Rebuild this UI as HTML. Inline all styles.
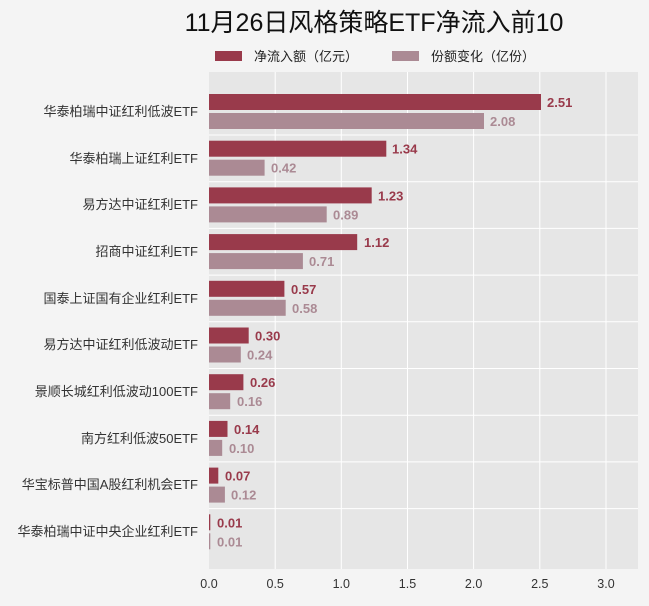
<!DOCTYPE html>
<html><head><meta charset="utf-8"><style>
body{margin:0;background:#f4f4f4;}
svg{display:block;font-family:"Liberation Sans","Noto Sans CJK SC",sans-serif;}
</style></head><body>
<svg width="649" height="606" xmlns="http://www.w3.org/2000/svg">
<rect width="649" height="606" fill="#f4f4f4"/>
<text x="374" y="31" font-size="25" text-anchor="middle" fill="#111">11月26日风格策略ETF净流入前10</text>
<rect x="215" y="51" width="27" height="10" fill="#993a4b"/>
<text x="254" y="61" font-size="13" fill="#222">净流入额（亿元）</text>
<rect x="392" y="51" width="27" height="10" fill="#ab8a94"/>
<text x="431" y="61" font-size="13" fill="#222">份额变化（亿份）</text>
<rect x="209" y="72" width="429" height="497" fill="#e6e6e6"/>
<g stroke="#fff" stroke-width="1">
<line x1="275.2" y1="72" x2="275.2" y2="569"/>
<line x1="341.3" y1="72" x2="341.3" y2="569"/>
<line x1="407.5" y1="72" x2="407.5" y2="569"/>
<line x1="473.6" y1="72" x2="473.6" y2="569"/>
<line x1="539.8" y1="72" x2="539.8" y2="569"/>
<line x1="606" y1="72" x2="606" y2="569"/>
<line x1="209" y1="135" x2="638" y2="135"/>
<line x1="209" y1="181.7" x2="638" y2="181.7"/>
<line x1="209" y1="228.4" x2="638" y2="228.4"/>
<line x1="209" y1="275.1" x2="638" y2="275.1"/>
<line x1="209" y1="321.8" x2="638" y2="321.8"/>
<line x1="209" y1="368.5" x2="638" y2="368.5"/>
<line x1="209" y1="415.2" x2="638" y2="415.2"/>
<line x1="209" y1="461.9" x2="638" y2="461.9"/>
<line x1="209" y1="508.6" x2="638" y2="508.6"/>
</g>
<g font-size="13" fill="#333" text-anchor="end">
<text x="198" y="116">华泰柏瑞中证红利低波ETF</text>
<text x="198" y="163">华泰柏瑞上证红利ETF</text>
<text x="198" y="209">易方达中证红利ETF</text>
<text x="198" y="256">招商中证红利ETF</text>
<text x="198" y="303">国泰上证国有企业红利ETF</text>
<text x="198" y="349">易方达中证红利低波动ETF</text>
<text x="198" y="396">景顺长城红利低波动100ETF</text>
<text x="198" y="443">南方红利低波50ETF</text>
<text x="198" y="489">华宝标普中国A股红利机会ETF</text>
<text x="198" y="536">华泰柏瑞中证中央企业红利ETF</text>
</g>
<g font-size="12.5" fill="#333" text-anchor="middle">
<text x="209" y="588">0.0</text><text x="275.2" y="588">0.5</text><text x="341.3" y="588">1.0</text><text x="407.5" y="588">1.5</text><text x="473.6" y="588">2.0</text><text x="539.8" y="588">2.5</text><text x="606" y="588">3.0</text>
</g>
<g font-size="13" font-weight="bold">
<rect x="209" y="94" width="332" height="16" fill="#993a4b"/><text x="547" y="107" fill="#993a4b">2.51</text>
<rect x="209" y="113" width="275" height="16" fill="#ab8a94"/><text x="490" y="126" fill="#ab8a94">2.08</text>
<rect x="209" y="140.7" width="177.3" height="16" fill="#993a4b"/><text x="392" y="153.7" fill="#993a4b">1.34</text>
<rect x="209" y="159.7" width="55.6" height="16" fill="#ab8a94"/><text x="271" y="172.7" fill="#ab8a94">0.42</text>
<rect x="209" y="187.4" width="162.7" height="16" fill="#993a4b"/><text x="378" y="200.4" fill="#993a4b">1.23</text>
<rect x="209" y="206.4" width="117.7" height="16" fill="#ab8a94"/><text x="333" y="219.4" fill="#ab8a94">0.89</text>
<rect x="209" y="234.1" width="148.2" height="16" fill="#993a4b"/><text x="364" y="247.1" fill="#993a4b">1.12</text>
<rect x="209" y="253.1" width="93.9" height="16" fill="#ab8a94"/><text x="309" y="266.1" fill="#ab8a94">0.71</text>
<rect x="209" y="280.8" width="75.4" height="16" fill="#993a4b"/><text x="291" y="293.8" fill="#993a4b">0.57</text>
<rect x="209" y="299.8" width="76.7" height="16" fill="#ab8a94"/><text x="292" y="312.8" fill="#ab8a94">0.58</text>
<rect x="209" y="327.5" width="39.7" height="16" fill="#993a4b"/><text x="255" y="340.5" fill="#993a4b">0.30</text>
<rect x="209" y="346.5" width="31.8" height="16" fill="#ab8a94"/><text x="247" y="359.5" fill="#ab8a94">0.24</text>
<rect x="209" y="374.2" width="34.4" height="16" fill="#993a4b"/><text x="250" y="387.2" fill="#993a4b">0.26</text>
<rect x="209" y="393.2" width="21.2" height="16" fill="#ab8a94"/><text x="237" y="406.2" fill="#ab8a94">0.16</text>
<rect x="209" y="420.9" width="18.5" height="16" fill="#993a4b"/><text x="234" y="433.9" fill="#993a4b">0.14</text>
<rect x="209" y="439.9" width="13.2" height="16" fill="#ab8a94"/><text x="229" y="452.9" fill="#ab8a94">0.10</text>
<rect x="209" y="467.6" width="9.3" height="16" fill="#993a4b"/><text x="225" y="480.6" fill="#993a4b">0.07</text>
<rect x="209" y="486.6" width="15.9" height="16" fill="#ab8a94"/><text x="231" y="499.6" fill="#ab8a94">0.12</text>
<rect x="209" y="514.3" width="1.3" height="16" fill="#993a4b"/><text x="217" y="527.3" fill="#993a4b">0.01</text>
<rect x="209" y="533.3" width="1.3" height="16" fill="#ab8a94"/><text x="217" y="546.3" fill="#ab8a94">0.01</text>
</g>
</svg>
</body></html>
